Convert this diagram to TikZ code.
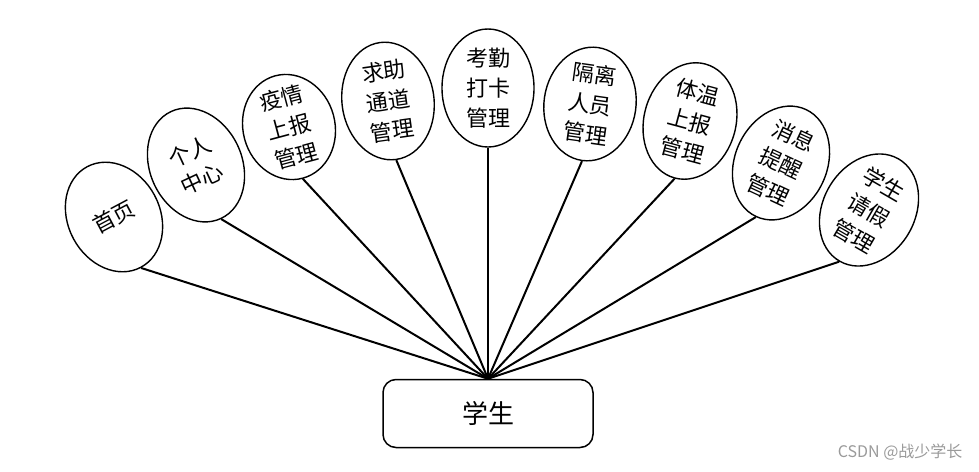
\documentclass[tikz,border=0pt]{standalone}
\usepackage{fontspec}
\setmainfont{Noto Sans CJK SC}
\usetikzlibrary{shapes.geometric}
\definecolor{markGray}{HTML}{9A9A9A}

\begin{document}
\begin{tikzpicture}[x=1pt,y=-1pt,
  fn/.style={draw,ellipse,line width=1.4pt,minimum width=92pt,minimum height=118pt,
    inner sep=0pt,align=center,font=\fontsize{22}{30}\selectfont},
  box/.style={draw,rounded corners=13pt,line width=1.5pt,minimum width=210pt,
    minimum height=68pt,font=\fontsize{26}{30}\selectfont},
  link/.style={line width=2pt}
]
  \useasboundingbox (0,0) rectangle (979,471);
  \node[box] (stu) at (488,413.5) {学生};
  \node[fn,rotate=28,minimum height=114pt] (home) at (114,217) {首页};
  \node[fn,rotate=25] (self) at (196,165) {个人\\中心};
  \node[fn,rotate=15,inner ysep=-3.5pt,minimum height=106pt] (epid) at (289,127) {疫情\\上报\\管理};
  \node[fn,rotate=8] (help) at (388,101) {求助\\通道\\管理};
  \node[fn] (check) at (488,88) {考勤\\打卡\\管理};
  \node[fn,rotate=-8,minimum height=114pt] (iso) at (590,104) {隔离\\人员\\管理};
  \node[fn,rotate=-15] (temp) at (690,121) {体温\\上报\\管理};
  \node[fn,rotate=-25] (msg) at (781,163) {消息\\提醒\\管理};
  \node[fn,rotate=-30] (leave) at (869,210) {学生\\请假\\管理};
  \draw[link] (stu.north) -- (home.south);
  \draw[link] (stu.north) -- (self.south);
  \draw[link] (stu.north) -- (epid.south);
  \draw[link] (stu.north) -- (help.south);
  \draw[link] (stu.north) -- (check.south);
  \draw[link] (stu.north) -- (iso.south);
  \draw[link] (stu.north) -- (temp.south);
  \draw[link] (stu.north) -- (msg.south);
  \draw[link] (stu.north) -- (leave.south);
  \node[anchor=east,text=markGray,font=\fontsize{16}{18}\selectfont] (mark) at (966,452) {CSDN @战少学长};
\end{tikzpicture}
\end{document}
